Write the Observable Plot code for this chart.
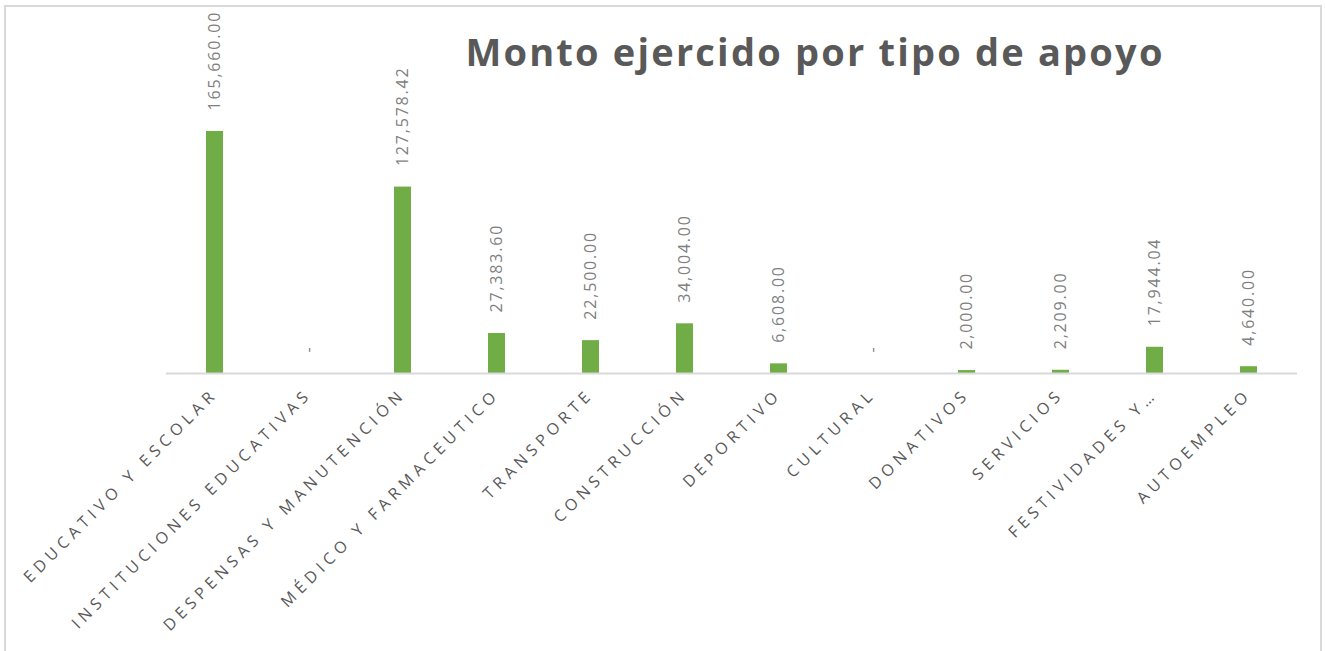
<!DOCTYPE html>
<html>
<head>
<meta charset="utf-8">
<script src="https://cdn.jsdelivr.net/npm/d3@7"></script>
<script src="https://cdn.jsdelivr.net/npm/@observablehq/plot@0.6"></script>
<style>
  html, body { margin: 0; padding: 0; background: #fff; }
  #wrap { position: relative; width: 1325px; height: 651px; overflow: hidden; }
  #frame { position: absolute; left: 4px; top: 5px; width: 1318px; height: 700px; border: 2px solid #d9d9d9; box-sizing: border-box; pointer-events: none; }
  #title { position: absolute; left: 0; width: 1630px; top: 32px; text-align: center; font-family: "Open Sans", sans-serif; font-weight: bold; font-size: 38px; letter-spacing: 2.2px; color: #595959; line-height: 1; }
  #chart { position: absolute; left: 0; top: 0; }
  [aria-label="x-axis tick label"] text { letter-spacing: 4.9px; }
  .vals text { letter-spacing: 1.8px; }
</style>
</head>
<body>
<div id="wrap">
  <div id="chart"></div>
  <div id="title">Monto ejercido por tipo de apoyo</div>
  <div id="frame"></div>
</div>
<script>
const categories = [
  "EDUCATIVO Y ESCOLAR",
  "INSTITUCIONES EDUCATIVAS",
  "DESPENSAS Y MANUTENCIÓN",
  "MÉDICO Y FARMACEUTICO",
  "TRANSPORTE",
  "CONSTRUCCIÓN",
  "DEPORTIVO",
  "CULTURAL",
  "DONATIVOS",
  "SERVICIOS",
  "FESTIVIDADES Y…",
  "AUTOEMPLEO"
];
const montos = [165660.00, 0, 127578.42, 27383.60, 22500.00, 34004.00, 6608.00, 0, 2000.00, 2209.00, 17944.04, 4640.00];

const data = categories.map((c, i) => ({categoria: c, monto: montos[i]}));
const fmt = v => v === 0 ? "-" : d3.format(",.2f")(v);

const chart = Plot.plot({
  width: 1325,
  height: 651,
  marginTop: 110,
  marginBottom: 278,
  marginLeft: 166,
  marginRight: 28,
  style: {background: "transparent", fontFamily: "Open Sans, sans-serif"},
  x: {domain: categories, paddingInner: 0.82, paddingOuter: 0.41, label: null},
  y: {domain: [0, 180000], axis: null},
  marks: [
    Plot.barY(data, {x: "categoria", y: "monto", fill: "#70ad47"}),
    Plot.ruleY([0], {stroke: "#d9d9d9", strokeWidth: 2}),
    Plot.axisX({
      tickSize: 0,
      tickPadding: 18,
      tickRotate: -45,
      fontSize: 16,
      fill: "#595959",
      label: null
    }),
    Plot.text(data, {
      x: "categoria",
      y: "monto",
      text: d => fmt(d.monto),
      rotate: -90,
      textAnchor: "start",
      dy: -21,
      fontSize: 16,
      fill: "#7f7f7f",
      className: "vals"
    })
  ]
});
document.getElementById("chart").appendChild(chart);
</script>
</body>
</html>
